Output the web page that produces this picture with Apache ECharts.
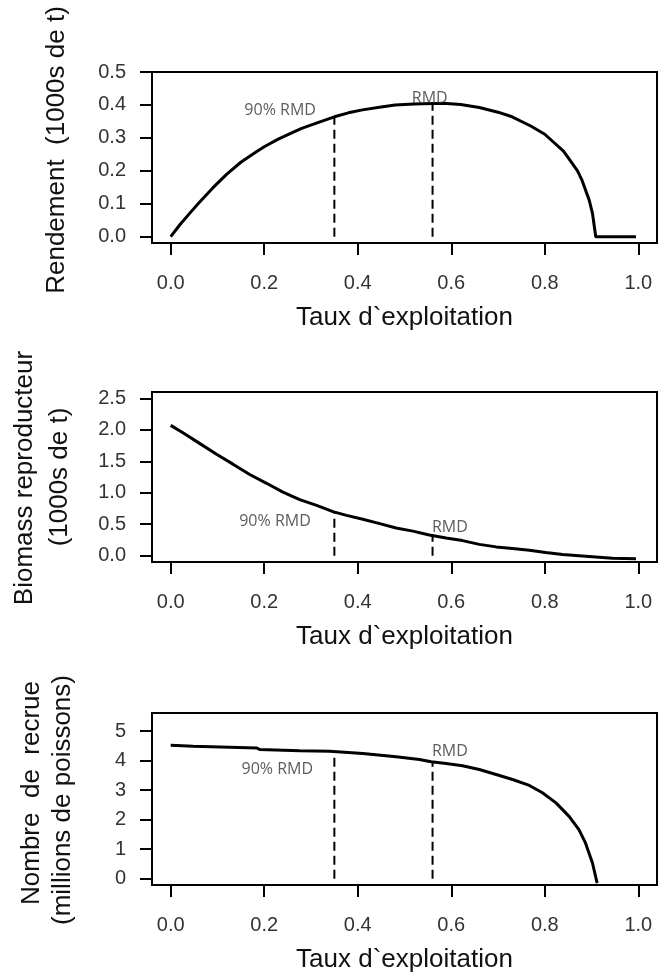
<!DOCTYPE html>
<html><head><meta charset="utf-8">
<script src="https://cdn.jsdelivr.net/npm/echarts@6/dist/echarts.min.js"></script>
<style>html,body{margin:0;padding:0;background:#fff}#c{width:659px;height:978px}</style>
</head><body><div id="c"></div>
<script>
// ---- data ----
const xTicks = [0, 0.2, 0.4, 0.6, 0.8, 1.0];
const yTicksYield = [0, 0.1, 0.2, 0.3, 0.4, 0.5];
const yTicksSSB = [0, 0.5, 1.0, 1.5, 2.0, 2.5];
const yTicksRec = [0, 1, 2, 3, 4, 5];

const yieldX = [0,0.02,0.04,0.06,0.09,0.12,0.15,0.18,0.2,0.23,0.26,0.28,0.31,0.35,0.38,0.41,0.45,0.48,0.52,0.56,0.59,0.62,0.66,0.7,0.73,0.77,0.8,0.84,0.85,0.87,0.88,0.895,0.902,0.909,0.995];
const yieldY = [0,0.037,0.07,0.102,0.148,0.19,0.226,0.255,0.273,0.296,0.316,0.329,0.344,0.364,0.376,0.385,0.394,0.4,0.403,0.404,0.404,0.401,0.392,0.378,0.364,0.336,0.311,0.26,0.24,0.2,0.17,0.111,0.071,0.0,0.0];

const ssbX = [0,0.027,0.0625,0.098,0.134,0.169,0.205,0.24,0.276,0.312,0.347,0.376,0.411,0.447,0.482,0.518,0.553,0.557,0.589,0.624,0.66,0.696,0.731,0.767,0.802,0.838,0.873,0.909,0.945,0.995];
const ssbY = [2.07,1.95,1.78,1.61,1.45,1.29,1.15,1.01,0.89,0.8,0.7,0.64,0.58,0.51,0.44,0.39,0.33,0.31,0.28,0.24,0.18,0.14,0.115,0.088,0.05,0.02,0.0,-0.02,-0.04,-0.05];

const recX = [0,0.048,0.184,0.19,0.276,0.34,0.411,0.482,0.532,0.557,0.589,0.624,0.66,0.696,0.731,0.767,0.795,0.824,0.852,0.873,0.887,0.902,0.912];
const recY = [4.52,4.49,4.43,4.38,4.34,4.32,4.24,4.13,4.04,3.96,3.90,3.83,3.70,3.53,3.36,3.16,2.91,2.57,2.11,1.66,1.21,0.53,-0.15];

// reference lines: [x, value on curve]
const refYield = [[0.35, 0.364], [0.56, 0.404]];
const refSSB = [[0.35, 0.69], [0.56, 0.31]];
const refRec = [[0.35, 4.22], [0.56, 3.95]];

// annotations: [text, x, y]
const annYield = [['90% RMD', 0.234, 0.384], ['RMD', 0.554, 0.42]];
const annSSB = [['90% RMD', 0.223, 0.54], ['RMD', 0.597, 0.456]];
const annRec = [['90% RMD', 0.228, 3.70], ['RMD', 0.597, 4.32]];

const xTitle = 'Taux d`exploitation';
// ---------------------------------------

const FONT = '"Liberation Sans", Arial, sans-serif';
const chart = echarts.init(document.getElementById('c'));

const panels = [
  {top: 72, height: 171, ymin: -0.0192, ymax: 0.5, yTicks: yTicksYield, fmt: v => v.toFixed(1),
   xs: yieldX, ys: yieldY, ref: refYield, ann: annYield},
  {top: 392, height: 170, ymin: -0.1, ymax: 2.6, yTicks: yTicksSSB, fmt: v => v.toFixed(1),
   xs: ssbX, ys: ssbY, ref: refSSB, ann: annSSB},
  {top: 713, height: 172, ymin: -0.216, ymax: 5.616, yTicks: yTicksRec, fmt: v => String(v),
   xs: recX, ys: recY, ref: refRec, ann: annRec}
];

const grid = [], xAxis = [], yAxis = [], series = [];
panels.forEach((p, i) => {
  grid.push({left: 152, width: 505, top: p.top, height: p.height, show: true,
    borderColor: '#000', borderWidth: 2, backgroundColor: 'transparent', containLabel: false});
  xAxis.push({type: 'value', gridIndex: i, min: -0.04, max: 1.04, position: 'bottom',
    axisLine: {show: false, onZero: false}, splitLine: {show: false},
    axisTick: {show: true, inside: false, length: 12, customValues: xTicks, lineStyle: {color: '#000', width: 2}},
    axisLabel: {customValues: xTicks, formatter: v => v.toFixed(1), margin: 30,
      fontSize: 20, fontFamily: FONT, color: '#333'},
    name: xTitle, nameLocation: 'middle', nameGap: 62,
    nameTextStyle: {fontSize: 26, fontFamily: FONT, color: '#111'}});
  yAxis.push({type: 'value', gridIndex: i, min: p.ymin, max: p.ymax, position: 'left',
    axisLine: {show: false, onZero: false}, splitLine: {show: false},
    axisTick: {show: true, inside: false, length: 12, customValues: p.yTicks, lineStyle: {color: '#000', width: 2}},
    axisLabel: {customValues: p.yTicks, formatter: p.fmt, margin: 26,
      fontSize: 20, fontFamily: FONT, color: '#333'}});
  series.push({type: 'line', xAxisIndex: i, yAxisIndex: i, symbol: 'none', smooth: false,
    lineStyle: {color: '#000', width: 3}, data: p.xs.map((x, k) => [x, p.ys[k]]), z: 3});
  p.ref.forEach(r => {
    series.push({type: 'line', xAxisIndex: i, yAxisIndex: i, symbol: 'none',
      lineStyle: {color: '#000', width: 2, type: [9, 5]}, data: [[r[0], 0], [r[0], r[1]]], z: 2});
  });
  series.push({type: 'scatter', xAxisIndex: i, yAxisIndex: i, symbolSize: 0,
    data: p.ann.map(a => ({name: a[0], value: [a[1], a[2]]})),
    label: {show: true, position: 'inside', formatter: '{b}', fontSize: 16,
      fontFamily: '"Open Sans", "Noto Sans", sans-serif', color: '#333'}, z: 4});
});

const yTitles = [
  {text: 'Rendement  (1000s de t)', x: 57, y: 150},
  {text: 'Biomass reproducteur', x: 25, y: 478},
  {text: '(1000s de t)', x: 60, y: 477},
  {text: 'Nombre  de  recrue', x: 32, y: 793},
  {text: '(millions de poissons)', x: 63, y: 800}
];

chart.setOption({
  animation: false,
  backgroundColor: '#fff',
  grid, xAxis, yAxis, series,
  graphic: yTitles.map(t => ({type: 'text', x: t.x, y: t.y, rotation: Math.PI / 2,
    style: {text: t.text, font: '26px ' + FONT, fill: '#111', textAlign: 'center', textVerticalAlign: 'middle'}}))
});
</script></body></html>
